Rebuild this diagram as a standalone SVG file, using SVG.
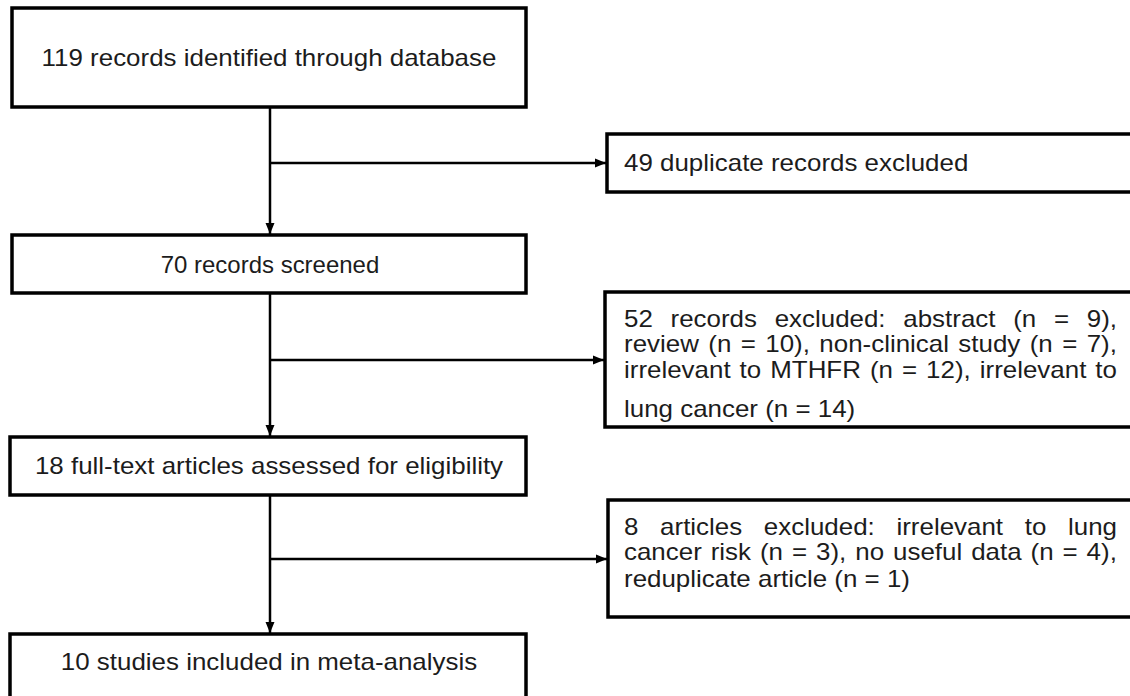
<svg xmlns="http://www.w3.org/2000/svg" width="1130" height="696" viewBox="0 0 1130 696">
  <defs>
    <style>
      .box { fill: #ffffff; stroke: #000000; stroke-width: 3.5; }
      .link { fill: none; stroke: #000000; stroke-width: 2.5; }
      .t { font-family: "Liberation Sans", Arial, sans-serif; font-size: 23px; fill: #1c1c1c; }
      .c { text-anchor: middle; }
    </style>
    <marker id="arrow" markerUnits="userSpaceOnUse" markerWidth="12" markerHeight="10" refX="11" refY="5" orient="auto">
      <path d="M0,0.5 L11,5 L0,9.5 Z" fill="#000000"/>
    </marker>
  </defs>
  <rect width="1130" height="696" fill="#ffffff"/>

  <!-- main flow and exclusion branches -->
  <g id="connectors">
    <path class="link" d="M270 107 V234" marker-end="url(#arrow)"/>
    <path class="link" d="M270 163 H606" marker-end="url(#arrow)"/>
    <path class="link" d="M270 293 V436" marker-end="url(#arrow)"/>
    <path class="link" d="M270 360 H604" marker-end="url(#arrow)"/>
    <path class="link" d="M270 495 V633" marker-end="url(#arrow)"/>
    <path class="link" d="M270 559 H607" marker-end="url(#arrow)"/>
  </g>

  <g id="identified">
    <rect class="box" x="12" y="8" width="514" height="99"/>
    <text class="t c" transform="translate(269 65.5) scale(1.127 1)">119 records identified through database</text>
  </g>

  <g id="duplicates">
    <rect class="box" x="607" y="134" width="530" height="58"/>
    <text class="t" transform="translate(624 170.5) scale(1.127 1)">49 duplicate records excluded</text>
  </g>

  <g id="screened">
    <rect class="box" x="12" y="235" width="514" height="58"/>
    <text class="t c" transform="translate(270 272.5) scale(1.043 1)">70 records screened</text>
  </g>

  <g id="screen-excluded">
    <rect class="box" x="605" y="292" width="530" height="135"/>
    <text class="t" transform="translate(624 326.5) scale(1.127 1)" word-spacing="9.31">52 records excluded: abstract (n = 9),</text>
    <text class="t" transform="translate(624 351.5) scale(1.127 1)" word-spacing="1.95">review (n = 10), non-clinical study (n = 7),</text>
    <text class="t" transform="translate(624 377.5) scale(1.127 1)" word-spacing="1.6">irrelevant to MTHFR (n = 12), irrelevant to</text>
    <text class="t" transform="translate(624 416.5) scale(1.127 1)">lung cancer (n = 14)</text>
  </g>

  <g id="full-text">
    <rect class="box" x="10" y="437" width="516" height="58"/>
    <text class="t c" transform="translate(269 473.5) scale(1.127 1)">18 full-text articles assessed for eligibility</text>
  </g>

  <g id="full-text-excluded">
    <rect class="box" x="608" y="500" width="530" height="117"/>
    <text class="t" transform="translate(624 534.5) scale(1.127 1)" word-spacing="12.84">8 articles excluded: irrelevant to lung</text>
    <text class="t" transform="translate(624 559.5) scale(1.127 1)" word-spacing="1.55">cancer risk (n = 3), no useful data (n = 4),</text>
    <text class="t" transform="translate(624 586.5) scale(1.127 1)">reduplicate article (n = 1)</text>
  </g>

  <g id="included">
    <rect class="box" x="10" y="634" width="516" height="72"/>
    <text class="t c" transform="translate(269 669.5) scale(1.127 1)">10 studies included in meta-analysis</text>
  </g>
</svg>
